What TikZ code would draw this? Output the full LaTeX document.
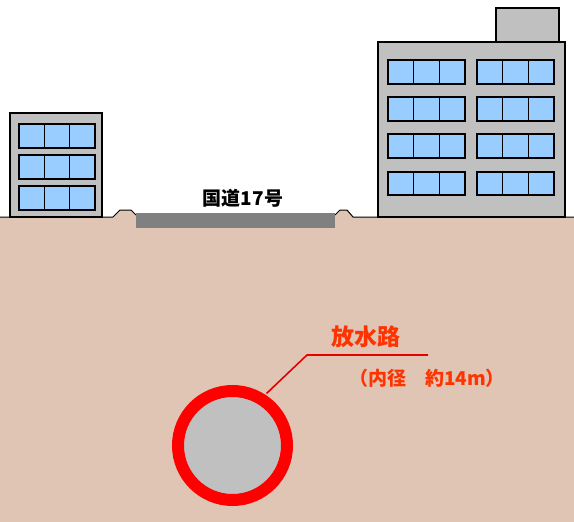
\documentclass[tikz,border=0pt]{standalone}
\usepackage{fontspec}
\newfontfamily\jpfont{Noto Sans CJK JP}
\definecolor{soil}{RGB}{224,196,180}
\definecolor{wall}{RGB}{192,192,192}
\definecolor{glass}{RGB}{153,204,255}
\definecolor{asphalt}{RGB}{128,128,128}
\definecolor{labelred}{RGB}{255,51,0}
\definecolor{leader}{RGB}{230,0,0}
\tikzset{
  building/.style={fill=wall, draw=black, line width=1.3pt},
  pane/.style={fill=glass, draw=black, line width=1.6pt},
  groundline/.style={draw=black, line width=1pt},
  roadlabel/.style={font=\jpfont\bfseries\fontsize{19}{19}\selectfont, text=black},
  redlabel/.style={text=labelred, font=\jpfont\bfseries},
}
% one row of three window panes: #1 left, #2 top, #3 right, #4 bottom
\newcommand{\windowrow}[4]{%
  \pgfmathsetmacro{\wa}{#1+(#3-#1)/3}%
  \pgfmathsetmacro{\wb}{#1+2*(#3-#1)/3}%
  \draw[pane] (#1,#2) rectangle (#3,#4);
  \draw[pane] (\wa,#2) -- (\wa,#4) (\wb,#2) -- (\wb,#4);
}
\begin{document}
\begin{tikzpicture}[x=1pt,y=-1pt]
\useasboundingbox (0,0) rectangle (574,522);
\fill[white] (0,0) rectangle (574,522);

% soil with the two embankment bumps beside the road
\fill[soil] (0,217) -- (113,217) -- (120,210) -- (131,210) -- (136,215)
  -- (335,215) -- (340,210) -- (347,210) -- (353,217) -- (574,217)
  -- (574,522) -- (0,522) -- cycle;
\draw[groundline] (0,217) -- (113,217) -- (120,210) -- (131,210) -- (136,215);
\draw[groundline] (335,215) -- (340,210) -- (347,210) -- (353,217) -- (574,217);

% road surface and its name
\fill[asphalt] (136,213) rectangle (335,228);
\node[roadlabel] (road) at (243,198) {国道17号};

% low building on the left
\draw[building] (10,113) rectangle (102,217);
\windowrow{19}{124}{95}{148}
\windowrow{19}{155}{95}{179}
\windowrow{19}{186}{95}{210}

% tall building on the right, with its rooftop box
\draw[building] (496,8) rectangle (559,42);
\draw[building] (378,42) rectangle (565,217);
\foreach \t/\b in {60/84, 97/121, 134/158, 172/195}{
  \windowrow{388}{\t}{465}{\b}
  \windowrow{477}{\t}{554}{\b}
}

% discharge tunnel cross-section
\fill[wall] (232.5,445.5) circle[radius=49];
\draw[red, line width=12pt] (232.5,445.5) circle[radius=54.5];
\coordinate (tunnel) at (266.5,393.5);

% leader line and labels
\coordinate (bend) at (307,355);
\coordinate (tail) at (428,355);
\draw[leader, line width=1.6pt] (tunnel) -- (bend) -- (tail);
\node[redlabel, font=\jpfont\bfseries\fontsize{23}{23}\selectfont] (name) at (366,337) {放水路};
\node[redlabel, font=\jpfont\bfseries\fontsize{19}{19}\selectfont] (size) at (427,378) {（内径　約14m）};
\end{tikzpicture}
\end{document}
